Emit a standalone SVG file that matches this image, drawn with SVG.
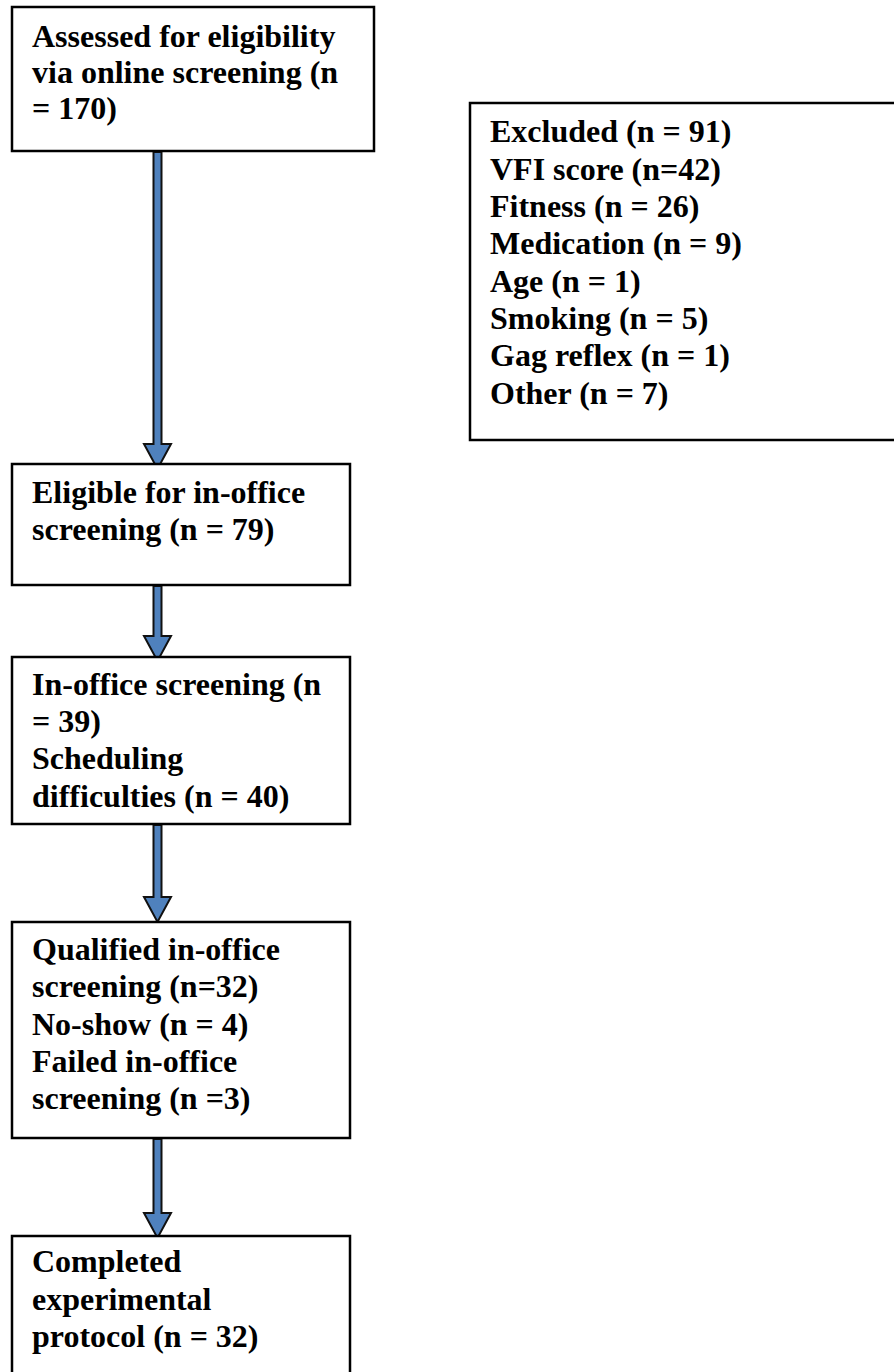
<svg xmlns="http://www.w3.org/2000/svg" width="894" height="1372" viewBox="0 0 894 1372">
<style>
.box{fill:#fff;stroke:#000;stroke-width:2.5}
.t{font-family:"Liberation Serif","Times New Roman",serif;font-weight:bold;font-size:32px;fill:#000}
.arr{fill:#4f81bd;stroke:#111;stroke-width:2;stroke-linejoin:miter}
</style>
<rect width="894" height="1372" fill="#fff"/>
<g id="connectors">
<polygon class="arr" points="153.5,152 161.5,152 161.5,444 171,444 157.5,469 144,444 153.5,444"/>
<polygon class="arr" points="153.5,586 161.5,586 161.5,636 171,636 157.5,661 144,636 153.5,636"/>
<polygon class="arr" points="153.5,825 161.5,825 161.5,897 171,897 157.5,922 144,897 153.5,897"/>
<polygon class="arr" points="153.5,1139 161.5,1139 161.5,1213 171,1213 157.5,1238 144,1213 153.5,1213"/>
</g>
<g id="n1">
<rect class="box" x="12" y="7" width="362" height="144"/>
<text class="t" x="32" y="47">Assessed for eligibility</text>
<text class="t" x="32" y="83">via online screening (n</text>
<text class="t" x="32" y="119">= 170)</text>
</g>
<g id="n2">
<rect class="box" x="470" y="103" width="440" height="337"/>
<text class="t" x="490" y="142">Excluded (n = 91)</text>
<text class="t" x="490" y="180">VFI score (n=42)</text>
<text class="t" x="490" y="217">Fitness (n = 26)</text>
<text class="t" x="490" y="254">Medication (n = 9)</text>
<text class="t" x="490" y="292">Age (n = 1)</text>
<text class="t" x="490" y="329">Smoking (n = 5)</text>
<text class="t" x="490" y="366">Gag reflex (n = 1)</text>
<text class="t" x="490" y="404">Other (n = 7)</text>
</g>
<g id="n3">
<rect class="box" x="12" y="464" width="338" height="121"/>
<text class="t" x="32" y="503">Eligible for in-office</text>
<text class="t" x="32" y="540">screening (n = 79)</text>
</g>
<g id="n4">
<rect class="box" x="12" y="657" width="338" height="167"/>
<text class="t" x="32" y="695">In-office screening (n</text>
<text class="t" x="32" y="732">= 39)</text>
<text class="t" x="32" y="769">Scheduling</text>
<text class="t" x="32" y="807">difficulties (n = 40)</text>
</g>
<g id="n5">
<rect class="box" x="12" y="922" width="338" height="216"/>
<text class="t" x="32" y="960">Qualified in-office</text>
<text class="t" x="32" y="997">screening (n=32)</text>
<text class="t" x="32" y="1035">No-show (n = 4)</text>
<text class="t" x="32" y="1072">Failed in-office</text>
<text class="t" x="32" y="1109">screening (n =3)</text>
</g>
<g id="n6">
<rect class="box" x="12" y="1236" width="338" height="150"/>
<text class="t" x="32" y="1272">Completed</text>
<text class="t" x="32" y="1310">experimental</text>
<text class="t" x="32" y="1347">protocol (n = 32)</text>
</g>
</svg>
